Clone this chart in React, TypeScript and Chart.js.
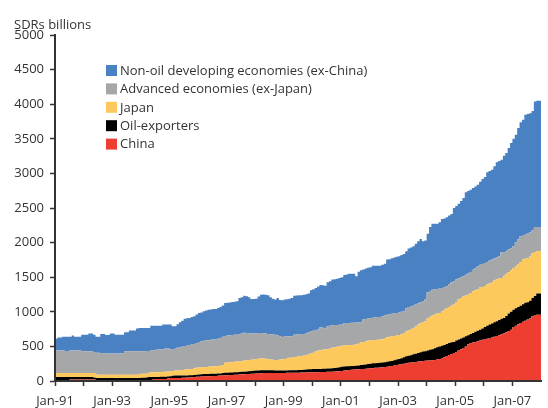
import React, { useEffect, useRef } from "react";
import { Chart, registerables } from "chart.js";

Chart.register(...registerables);

const YEARS = [1991, 1992, 1993, 1994, 1995, 1996, 1997, 1998, 1999, 2000, 2001, 2002, 2003, 2004, 2005, 2006, 2007];
const MONTH_NAMES = ["Jan", "Feb", "Mar", "Apr", "May", "Jun", "Jul", "Aug", "Sep", "Oct", "Nov", "Dec"];
const months: string[] = [];
YEARS.forEach((y) => MONTH_NAMES.forEach((m) => months.push(`${m}-${String(y).slice(2)}`)));

const yTicks = [0, 500, 1000, 1500, 2000, 2500, 3000, 3500, 4000, 4500, 5000];

// SDRs billions, monthly Jan-91 .. Dec-07
const china = [
  3, 15, 15, 3, 3, 3, 3, 20, 20, 20, 20, 20,
  20, 20, 20, 20, 20, 20, 3, 3, 3, 3, 3, 3,
  3, 3, 3, 3, 3, 3, 3, 3, 3, 3, 3, 3,
  3, 3, 3, 3, 3, 3, 30, 30, 30, 30, 30, 30,
  40, 42, 44, 44, 44, 44, 46, 48, 50, 52, 55, 58,
  60, 62, 64, 66, 68, 68, 70, 72, 74, 76, 78, 80,
  82, 84, 86, 88, 90, 92, 94, 96, 98, 100, 102, 104,
  106, 108, 110, 112, 114, 115, 116, 117, 117, 117, 117, 117,
  117, 117, 118, 118, 119, 120, 120, 121, 122, 123, 124, 125,
  125, 126, 127, 128, 130, 130, 131, 132, 133, 135, 137, 140,
  142, 145, 150, 155, 160, 163, 165, 168, 170, 172, 175, 178,
  180, 183, 186, 190, 193, 196, 199, 203, 207, 212, 218, 225,
  230, 237, 243, 250, 256, 262, 268, 272, 276, 280, 285, 290,
  292, 295, 297, 299, 305, 312, 319, 334, 345, 360, 375, 390,
  405, 420, 440, 460, 478, 500, 530, 545, 555, 565, 575, 585,
  595, 600, 610, 620, 630, 640, 650, 660, 675, 690, 705, 718,
  740, 781, 800, 820, 839, 855, 870, 887, 905, 935, 945, 959,
];

const oilExporters = [
  54, 42, 42, 54, 54, 54, 54, 37, 37, 37, 37, 37,
  37, 37, 37, 37, 37, 30, 41, 41, 41, 41, 41, 41,
  41, 41, 39, 39, 41, 41, 41, 41, 42, 42, 42, 42,
  42, 43, 45, 47, 56, 56, 29, 29, 29, 30, 30, 32,
  25, 28, 31, 34, 34, 34, 32, 32, 30, 30, 29, 28,
  30, 33, 34, 34, 34, 34, 34, 33, 32, 32, 32, 35,
  36, 36, 36, 36, 36, 36, 36, 36, 36, 36, 38, 41,
  42, 42, 42, 43, 41, 40, 39, 38, 38, 35, 33, 33,
  33, 33, 34, 37, 36, 35, 36, 37, 38, 39, 41, 43,
  45, 46, 47, 46, 45, 46, 47, 48, 49, 50, 51, 52,
  58, 60, 60, 58, 53, 52, 53, 52, 55, 58, 60, 62,
  65, 67, 69, 68, 68, 68, 69, 69, 71, 73, 72, 75,
  80, 81, 87, 95, 101, 103, 103, 113, 119, 126, 130, 135,
  138, 145, 153, 161, 170, 175, 181, 176, 175, 175, 175, 170,
  160, 165, 160, 155, 152, 145, 130, 135, 140, 145, 150, 155,
  165, 180, 190, 195, 200, 210, 213, 220, 225, 221, 235, 256,
  260, 250, 250, 250, 250, 255, 260, 250, 255, 265, 285, 304,
];

const japan = [
  60, 60, 60, 60, 60, 60, 60, 60, 60, 60, 60, 60,
  60, 60, 60, 60, 60, 67, 51, 48, 48, 48, 48, 48,
  46, 46, 48, 48, 46, 46, 46, 46, 45, 45, 45, 45,
  55, 59, 57, 55, 61, 66, 66, 66, 69, 70, 72, 73,
  73, 70, 70, 72, 72, 74, 82, 85, 88, 88, 91, 94,
  100, 100, 100, 100, 101, 104, 104, 105, 107, 107, 110, 115,
  147, 148, 150, 151, 152, 154, 155, 158, 161, 164, 165, 163,
  164, 168, 170, 169, 169, 165, 160, 155, 153, 153, 155, 160,
  165, 169, 173, 180, 185, 193, 194, 199, 200, 208, 212, 217,
  226, 238, 251, 265, 270, 276, 282, 284, 288, 295, 299, 303,
  301, 303, 306, 305, 307, 307, 306, 306, 315, 329, 330, 332,
  339, 336, 335, 334, 334, 334, 337, 343, 353, 353, 355, 350,
  346, 347, 345, 350, 361, 363, 374, 382, 395, 409, 420, 425,
  433, 471, 480, 485, 485, 488, 483, 495, 511, 515, 520, 530,
  539, 555, 576, 585, 594, 590, 588, 590, 601, 600, 605, 610,
  600, 588, 593, 595, 600, 605, 607, 600, 589, 609, 610, 596,
  600, 603, 610, 622, 631, 644, 635, 641, 640, 651, 630, 611,
];

const advancedExJapan = [
  322, 322, 322, 322, 322, 318, 318, 322, 322, 322, 322, 322,
  313, 313, 313, 313, 313, 301, 315, 316, 314, 308, 306, 306,
  308, 308, 308, 308, 308, 310, 335, 340, 340, 340, 340, 340,
  330, 325, 325, 327, 315, 315, 320, 325, 326, 324, 328, 333,
  330, 320, 308, 315, 330, 335, 335, 340, 343, 350, 355, 356,
  360, 370, 377, 380, 385, 384, 387, 388, 385, 395, 402, 410,
  385, 388, 388, 390, 390, 388, 395, 400, 404, 395, 385, 377,
  373, 372, 370, 370, 366, 365, 365, 365, 364, 365, 355, 336,
  317, 327, 321, 311, 306, 322, 322, 318, 318, 310, 313, 315,
  318, 315, 310, 304, 331, 318, 302, 326, 330, 325, 321, 315,
  311, 307, 323, 321, 319, 318, 318, 319, 306, 289, 322, 323,
  321, 325, 325, 328, 330, 328, 330, 330, 328, 327, 327, 328,
  327, 325, 325, 312, 338, 342, 335, 322, 320, 310, 302, 300,
  313, 370, 370, 375, 365, 355, 352, 340, 327, 318, 325, 336,
  336, 325, 304, 300, 289, 300, 312, 305, 313, 320, 327, 330,
  330, 338, 327, 330, 324, 315, 320, 322, 371, 345, 324, 330,
  320, 312, 344, 358, 370, 346, 350, 352, 348, 329, 366, 352,
];

const nonOilDevExChina = [
  173, 173, 188, 188, 202, 206, 206, 202, 217, 202, 202, 202,
  240, 240, 240, 255, 255, 252, 231, 233, 274, 280, 267, 267,
  287, 287, 272, 272, 272, 270, 279, 274, 298, 298, 298, 327,
  337, 337, 337, 335, 332, 360, 355, 350, 346, 346, 355, 347,
  347, 355, 337, 325, 340, 361, 375, 396, 394, 391, 395, 399,
  410, 418, 415, 427, 432, 441, 440, 442, 443, 445, 448, 450,
  478, 474, 475, 477, 477, 481, 520, 520, 534, 530, 519, 501,
  501, 500, 528, 554, 560, 563, 558, 534, 518, 506, 538, 524,
  534, 530, 534, 544, 554, 563, 563, 565, 562, 568, 565, 563,
  597, 600, 610, 622, 612, 615, 616, 636, 640, 660, 662, 669,
  678, 684, 693, 701, 712, 711, 709, 668, 734, 752, 723, 729,
  730, 732, 752, 747, 742, 741, 745, 751, 795, 795, 801, 807,
  812, 812, 820, 829, 818, 843, 850, 857, 875, 895, 916, 869,
  853, 848, 926, 954, 949, 944, 958, 997, 992, 997, 995, 988,
  1061, 1065, 1083, 1100, 1132, 1191, 1185, 1190, 1181, 1180, 1180, 1200,
  1230, 1243, 1295, 1295, 1300, 1332, 1370, 1378, 1338, 1391, 1421, 1467,
  1520, 1554, 1556, 1606, 1648, 1676, 1734, 1730, 1722, 1720, 1814, 1824,
];

const seriesLabels = [
  "China",
  "Oil-exporters",
  "Japan",
  "Advanced economies (ex-Japan)",
  "Non-oil developing economies (ex-China)",
];
const seriesColors = ["#EE3E32", "#000000", "#FDC85C", "#A6A7A9", "#4A81C3"];
const seriesData = [china, oilExporters, japan, advancedExJapan, nonOilDevExChina];

const FONT = '"Open Sans", "Noto Sans", sans-serif';
const TEXT = "#333333";
const AXIS = "#333333";
const N = months.length;

const overlayPlugin = {
  id: "overlay",
  afterDraw(chart: any) {
    const ctx = chart.ctx;
    ctx.save();
    ctx.font = `13px ${FONT}`;
    ctx.fillStyle = TEXT;
    ctx.textAlign = "left";
    ctx.textBaseline = "alphabetic";
    ctx.fillText("SDRs billions", 14, 28.6);
    const ds = chart.data.datasets;
    ctx.textBaseline = "middle";
    for (let i = 0; i < ds.length; i++) {
      const d = ds[ds.length - 1 - i];
      const cy = 70.5 + i * 18.4;
      ctx.fillStyle = d.backgroundColor;
      ctx.fillRect(106, cy - 5.5, 11, 11);
      ctx.fillStyle = TEXT;
      ctx.fillText(d.label, 120, cy + 0.5);
    }
    ctx.restore();
  },
};

export default function App() {
  const ref = useRef<HTMLCanvasElement | null>(null);
  useEffect(() => {
    if (!ref.current) return;
    const chart = new Chart(ref.current, {
      type: "line",
      data: {
        datasets: seriesData.map((d, i) => ({
          label: seriesLabels[i],
          // each month's value is held from the start of the month to the start of the next
          data: [...d.map((v, j) => ({ x: j, y: v })), { x: d.length, y: d[d.length - 1] }],
          backgroundColor: seriesColors[i],
          borderColor: seriesColors[i],
          borderWidth: 0,
          pointRadius: 0,
          stepped: "after",
          fill: i === 0 ? "origin" : "-1",
        })),
      },
      options: {
        animation: false,
        responsive: false,
        devicePixelRatio: 1,
        layout: { padding: { top: 35, right: 0, bottom: 0, left: 0 } },
        plugins: {
          legend: { display: false },
          tooltip: { enabled: false },
          title: { display: false },
        },
        scales: {
          x: {
            type: "linear",
            min: 0,
            max: N,
            offset: false,
            afterFit: (s: any) => {
              s.height = 27;
            },
            afterBuildTicks: (s: any) => {
              const t = [];
              for (let v = 0; v <= N; v += 12) t.push({ value: v });
              s.ticks = t;
            },
            grid: {
              display: true,
              drawOnChartArea: false,
              drawTicks: true,
              tickLength: 5,
              tickWidth: 1.5,
              tickColor: (c: any) => (c.tick && c.tick.value >= N ? "rgba(0,0,0,0)" : AXIS),
            },
            border: { display: true, color: AXIS, width: 2, z: 1 },
            ticks: {
              autoSkip: false,
              maxRotation: 0,
              minRotation: 0,
              padding: 7,
              color: TEXT,
              font: { family: FONT, size: 13 },
              callback: (v: any) => (v % 24 === 0 && v < N ? months[v] : ""),
            },
          },
          y: {
            stacked: true,
            min: 0,
            max: 5000,
            afterFit: (s: any) => {
              s.width = 55;
            },
            afterBuildTicks: (s: any) => {
              s.ticks = yTicks.map((v) => ({ value: v }));
            },
            grid: {
              display: true,
              drawOnChartArea: false,
              drawTicks: true,
              tickLength: 5,
              tickWidth: 1.5,
              tickColor: AXIS,
            },
            border: { display: true, color: AXIS, width: 2, z: 1 },
            ticks: {
              padding: 6,
              color: TEXT,
              font: { family: FONT, size: 13 },
              callback: (v: any) => String(v),
            },
          },
        },
      },
      plugins: [overlayPlugin],
    });
    return () => chart.destroy();
  }, []);
  return (
    <div style={{ position: "fixed", left: 0, top: 0, width: 548, height: 408, background: "#fff" }}>
      <canvas ref={ref} width={548} height={408} style={{ display: "block" }} />
    </div>
  );
}
